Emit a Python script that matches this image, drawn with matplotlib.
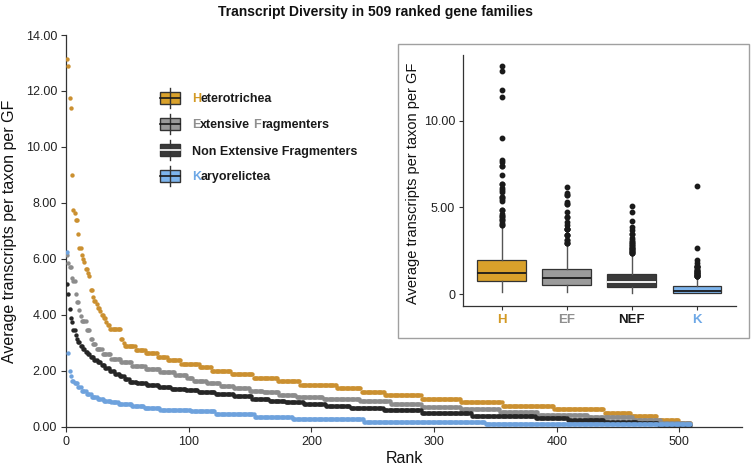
import numpy as np
import matplotlib
matplotlib.use('Agg')
import matplotlib.pyplot as plt
from matplotlib.patches import Rectangle
from matplotlib.lines import Line2D
from matplotlib.textpath import TextToPath
from matplotlib.font_manager import FontProperties

plt.rcParams['font.family'] = ['Liberation Sans', 'DejaVu Sans']

# ---------------- data (run-length: value, number of gene families) ----------------
group_codes = ['H', 'EF', 'NEF', 'K']
group_names = ['Heterotrichea', 'Extensive Fragmenters', 'Non Extensive Fragmenters', 'Karyorelictea']

h_values = [13.125, 12.875, 11.75, 11.375, 9.0, 7.75, 7.625, 7.375, 6.875, 6.375, 6.125, 6.0,
            5.875, 5.625, 5.5, 5.375, 4.875, 4.625, 4.5, 4.375, 4.25, 4.125, 4.0, 3.875, 3.75,
            3.625, 3.5, 3.125, 3.0, 2.875, 2.75, 2.625, 2.5, 2.375, 2.25, 2.125, 2.0, 1.875,
            1.75, 1.625, 1.5, 1.375, 1.25, 1.125, 1.0, 0.875, 0.75, 0.625, 0.5, 0.375, 0.25, 0.125]
h_counts = [1, 1, 1, 1, 1, 1, 1, 2, 1, 2, 1, 1,
            1, 2, 1, 1, 2, 1, 2, 1, 2, 1, 2, 2, 1,
            2, 9, 2, 1, 9, 8, 10, 8, 11, 15, 10, 16, 18,
            20, 18, 30, 20, 19, 30, 32, 34, 42, 41, 22, 21, 18, 10]

ef_values = [6.15, 5.85, 5.7, 5.3, 5.2, 4.75, 4.45, 4.18, 3.97, 3.77, 3.44, 3.14,
             2.96, 2.78, 2.6, 2.42, 2.3, 2.18, 2.06, 1.94, 1.83, 1.75, 1.65, 1.55, 1.47,
             1.39, 1.29, 1.23, 1.15, 1.07, 1.0, 0.92, 0.82, 0.72, 0.62, 0.53, 0.43, 0.34,
             0.24, 0.15]
ef_counts = [1, 1, 2, 1, 2, 1, 2, 1, 1, 4, 3, 2,
             3, 5, 7, 8, 9, 11, 12, 12, 10, 5, 11, 11, 11,
             13, 11, 13, 14, 22, 30, 25, 25, 32, 32, 31, 41, 36,
             23, 25]

nef_values = [5.1, 4.75, 4.2, 3.89, 3.73, 3.46, 3.26, 3.14, 3.02, 2.88, 2.78, 2.68, 2.6,
              2.5, 2.4, 2.3, 2.2, 2.1, 2.0, 1.9, 1.8, 1.7, 1.6, 1.55, 1.48, 1.42, 1.36,
              1.3, 1.23, 1.17, 1.1, 1.0, 0.93, 0.87, 0.8, 0.74, 0.68, 0.58, 0.49, 0.4,
              0.32, 0.25, 0.18, 0.12, 0.06]
nef_counts = [1, 1, 1, 1, 1, 2, 1, 1, 2, 2, 2, 2, 2,
              3, 3, 3, 3, 4, 4, 4, 4, 4, 6, 8, 10, 10, 12,
              10, 14, 15, 15, 14, 13, 15, 18, 20, 27, 31, 41, 52,
              26, 30, 27, 17, 27]

k_values = [6.25, 2.64, 2.0, 1.82, 1.64, 1.55, 1.41, 1.29, 1.17, 1.07, 0.99, 0.93, 0.87,
            0.81, 0.73, 0.67, 0.61, 0.55, 0.45, 0.36, 0.27, 0.17, 0.08]
k_counts = [1, 1, 1, 1, 2, 3, 3, 4, 4, 5, 5, 6, 6,
            11, 10, 13, 25, 20, 32, 31, 58, 99, 168]

x_ticks = [0, 100, 200, 300, 400, 500]
y_ticks = [0, 2, 4, 6, 8, 10, 12, 14]
inset_y_ticks = [0, 5, 10]
inset_y_ticklabels = ['0', '5.00', '10.00']

# ---------------- styles ----------------
point_colors = ['#CB9030', '#8C8C8C', '#262626', '#6EA2DD']
box_colors = ['#D9A12B', '#9B9B9B', '#3A3A3A', '#7DB4EC']
median_colors = ['#1a1a1a', '#1a1a1a', '#FFFFFF', '#1a1a1a']
label_colors = ['#D39A25', '#8F8F8F', '#1a1a1a', '#6EA8E6']
axis_col = '#333333'

series = [np.repeat(h_values, h_counts), np.repeat(ef_values, ef_counts),
          np.repeat(nef_values, nef_counts), np.repeat(k_values, k_counts)]

W, H, DPI = 752, 470, 100
fig = plt.figure(figsize=(W / DPI, H / DPI), dpi=DPI)

def fx(px):
    return px / W

def fy(py):
    return 1 - py / H

# ---------------- main axes ----------------
ax = fig.add_axes([fx(66), fy(426.7), fx(742) - fx(66), fy(35) - fy(426.7)])
for vals, col in zip(series, point_colors):
    rank = np.arange(1, len(vals) + 1)
    ax.scatter(rank, vals, s=10, c=col, linewidths=0, zorder=3)
ax.set_xlim(0, 551)
ax.set_ylim(0, 14)
ax.set_xticks(x_ticks)
ax.set_yticks(y_ticks)
ax.set_yticklabels([f'{v:.2f}' for v in y_ticks])
for s in ['top', 'right']:
    ax.spines[s].set_visible(False)
for s in ['left', 'bottom']:
    ax.spines[s].set_color(axis_col)
    ax.spines[s].set_linewidth(0.9)
ax.tick_params(axis='both', colors=axis_col, labelcolor='#222222', labelsize=9, length=3.5, width=0.8, pad=3)
ax.set_xlabel('Rank', fontsize=11.5, color='#111111')
ax.set_ylabel('Average transcripts per taxon per GF', fontsize=11.5, color='#111111')
ax.yaxis.set_label_coords(-0.0725, 0.5)
ax.xaxis.set_label_coords(0.5, -0.062)

fig.text(0.5, fy(12), 'Transcript Diversity in 509 ranked gene families', ha='center', va='center',
         fontsize=10, fontweight='bold', color='#111111')

# ---------------- legend (drawn manually) ----------------
ttp = TextToPath()
fp = FontProperties(family=['Liberation Sans', 'DejaVu Sans'], weight='bold', size=9)

def width_px(s):
    w, h, d = ttp.get_text_width_height_descent(s, fp, ismath=False)
    return w * DPI / 72.0

legend_parts = [
    [('H', label_colors[0]), ('eterotrichea', '#1a1a1a')],
    [('E', label_colors[1]), ('xtensive', '#1a1a1a'), ('F', label_colors[1]), ('ragmenters', '#1a1a1a')],
    [('Non Extensive Fragmenters', '#1a1a1a')],
    [('K', label_colors[3]), ('aryorelictea', '#1a1a1a')],
]
row_y = [97.7, 124, 150, 175.7]
kx, kw, kh, stub = 170, 20, 12, 4
tx0 = 191.7
for i in range(4):
    cy = row_y[i]
    fig.add_artist(Line2D([fx(kx), fx(kx)], [fy(cy - kh / 2 - stub), fy(cy + kh / 2 + stub)],
                          color=axis_col, lw=1))
    fig.add_artist(Rectangle((fx(kx - kw / 2), fy(cy + kh / 2)), kw / W, kh / H,
                             facecolor=box_colors[i], edgecolor=axis_col, lw=1))
    fig.add_artist(Line2D([fx(kx - kw / 2), fx(kx + kw / 2)], [fy(cy), fy(cy)],
                          color=median_colors[i], lw=1.2))
    full = group_names[i]
    pos = 0
    for piece, col in legend_parts[i]:
        start = full.index(piece, pos)
        end = start + len(piece)
        xoff = width_px(full[:end]) - width_px(piece)
        fig.text(fx(tx0 + xoff), fy(cy), piece, color=col, fontproperties=fp, ha='left', va='center_baseline')
        pos = end

# ---------------- inset ----------------
fig.add_artist(Rectangle((fx(398), fy(338)), (749 - 398) / W, (338 - 44) / H,
                         facecolor='white', edgecolor='#A0A0A0', lw=1, zorder=5))
axi = fig.add_axes([fx(462.7), fy(306), fx(736) - fx(462.7), fy(55) - fy(306)], zorder=6)
axi.patch.set_alpha(0)
bp = axi.boxplot(series, positions=[1, 2, 3, 4], widths=0.75, patch_artist=True, showcaps=False,
                 whiskerprops=dict(color='#555555', lw=1),
                 flierprops=dict(marker='o', markerfacecolor='#1a1a1a', markeredgecolor='#1a1a1a',
                                 markersize=3.2),
                 medianprops=dict(lw=1.3))
for i in range(4):
    bp['boxes'][i].set_facecolor(box_colors[i])
    bp['boxes'][i].set_edgecolor(axis_col)
    bp['boxes'][i].set_linewidth(0.9)
    bp['medians'][i].set_color(median_colors[i])
axi.set_xlim(0.4, 4.6)
axi.set_ylim(-0.674, 13.78)
axi.set_yticks(inset_y_ticks)
axi.set_yticklabels(inset_y_ticklabels)
axi.set_xticks([1, 2, 3, 4])
for s in ['top', 'right']:
    axi.spines[s].set_visible(False)
for s in ['left', 'bottom']:
    axi.spines[s].set_color(axis_col)
    axi.spines[s].set_linewidth(0.9)
axi.tick_params(axis='both', colors=axis_col, length=3, width=0.8, pad=2.5)
axi.tick_params(axis='y', labelsize=9, labelcolor='#222222')
axi.set_xticklabels(group_codes, fontweight='bold', fontsize=9.5)
for lbl, col in zip(axi.get_xticklabels(), label_colors):
    lbl.set_color(col)
axi.set_ylabel('Average transcripts per taxon per GF', fontsize=10.5, color='#111111')
axi.yaxis.set_label_coords(-0.156, 0.49)

fig.savefig('out.png', dpi=DPI)
